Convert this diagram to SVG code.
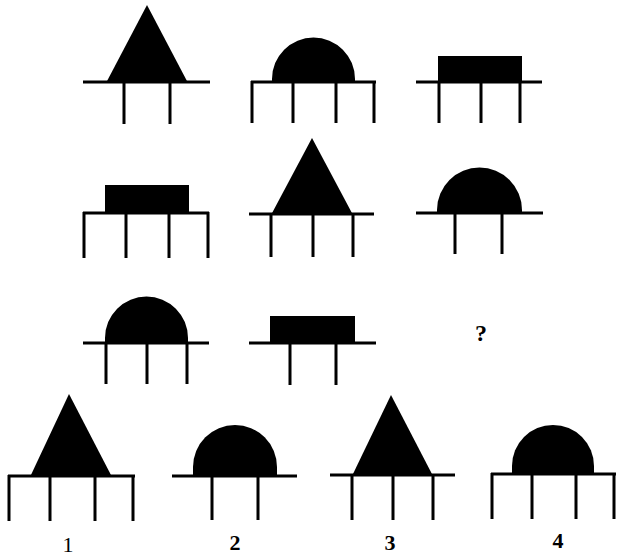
<svg xmlns="http://www.w3.org/2000/svg" width="617" height="556" viewBox="0 0 617 556">
<style>
.f{fill:#000;stroke:none}
.l{stroke:#000;stroke-width:3;fill:none;stroke-linecap:butt}
.t{font-family:"Liberation Serif","Times New Roman",serif;font-weight:bold;font-size:22px;fill:#000;text-anchor:middle}
</style>
<rect width="617" height="556" fill="#fff"/>
<g id="fig1">
<polygon class="f" points="147,5 106,83 188,83"/>
<path class="l" d="M83,82H210M124,82V124M170,82V124"/>
</g>
<g id="fig2">
<path class="f" d="M272,83V79A41.5,41.5 0 0 1 355,79V83Z"/>
<path class="l" d="M251,82H376M252,81V123M293,82V123M336,82V123M374,81V123"/>
</g>
<g id="fig3">
<rect class="f" x="438" y="56" width="84" height="27"/>
<path class="l" d="M416,82H542M439,82V123M481,82V123M520,82V123"/>
</g>
<g id="fig4">
<rect class="f" x="105" y="185" width="84" height="29"/>
<path class="l" d="M83,213H209M84,212V258M126,213V258M169,213V258M208,212V258"/>
</g>
<g id="fig5">
<polygon class="f" points="312,138 271,215 353,215"/>
<path class="l" d="M249,214H374M271,214V257M313,214V257M353,214V257"/>
</g>
<g id="fig6">
<path class="f" d="M437,214V210A42.5,42.5 0 0 1 522,210V214Z"/>
<path class="l" d="M416,213H543M455,213V254M502,213V254"/>
</g>
<g id="fig7">
<path class="f" d="M105,344V338A41.5,41.5 0 0 1 188,338V344Z"/>
<path class="l" d="M83,343H209M106,343V384M147,343V384M187,343V384"/>
</g>
<g id="fig8">
<rect class="f" x="270" y="316" width="85" height="28"/>
<path class="l" d="M249,343H376M290,343V385M336,343V385"/>
</g>
<g id="question">
<text class="t" x="481" y="341" style="font-size:24px">?</text>
</g>
<g id="opt1">
<polygon class="f" points="69,394 30,477 112,477"/>
<path class="l" d="M8,476H135M9,475V521M50,476V521M95,476V521M133,475V521"/>
<text class="t" x="68" y="552" style="font-weight:normal">1</text>
</g>
<g id="opt2">
<path class="f" d="M193,477V467A42,42 0 0 1 277,467V477Z"/>
<path class="l" d="M172,476H297M212,476V520M258,476V520"/>
<text class="t" x="235" y="550">2</text>
</g>
<g id="opt3">
<polygon class="f" points="391,395 352,476 433,476"/>
<path class="l" d="M330,475H455M352,475V520M393,475V520M433,475V520"/>
<text class="t" x="390" y="550">3</text>
</g>
<g id="opt4">
<path class="f" d="M512,475V466A41,41 0 0 1 594,466V475Z"/>
<path class="l" d="M491,474H616M492,473V519M532,474V519M576,474V519M614,473V519"/>
<text class="t" x="558" y="548">4</text>
</g>
</svg>
